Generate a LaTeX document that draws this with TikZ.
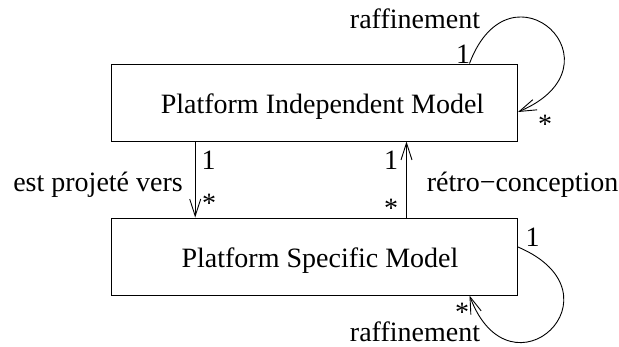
\documentclass[tikz,border=0pt]{standalone}
\usepackage{fontspec}
\setmainfont{Liberation Serif}
\usetikzlibrary{arrows.meta}
\begin{document}
\begin{tikzpicture}[x=1pt,y=-1pt,
  box/.style={draw,line width=1pt,minimum width=406pt,minimum height=77pt,inner sep=0pt},
  txt/.style={inner sep=0pt,font=\fontsize{28}{34}\selectfont},
  arr/.style={line width=0.9pt,-{Straight Barb[length=17pt,width=11pt,line width=0.9pt]}}]
\useasboundingbox (0,0) rectangle (619,346);
\node[box] (pim) at (314.5,102.5) {};
\node[box] (psm) at (314.5,256.5) {};
\node[txt,anchor=base] (pimt) at (322.5,113.3) {Platform Independent Model};
\node[txt,anchor=base] (psmt) at (320,267.3) {Platform Specific Model};
% vertical connectors
\draw[arr] ([xshift=84.2pt]pim.south west) -- ([xshift=84.2pt]psm.north west);
\draw[arr] ([xshift=-111.5pt]psm.north east) -- ([xshift=-111.5pt]pim.south east);
% loops
\draw[arr] ([xshift=-48.5pt]pim.north east) .. controls +(41,-109) and +(110,-47) .. ([yshift=-9.5pt]pim.east);
\draw[arr] ([yshift=9.5pt]psm.east) .. controls +(110,47) and +(41,109) .. ([xshift=-48.5pt]psm.south east);
% labels
\node[txt,anchor=base] (raff1) at (415,28) {raffinement};
\node[txt,anchor=base] (one1) at (463,63) {1};
\node[txt,anchor=base] (star1) at (545,133) {*};
\node[txt,anchor=base east] (proj) at (183,191.5) {est projeté vers};
\node[txt,anchor=base] (oneL) at (208.5,169) {1};
\node[txt,anchor=base] (starL) at (209,212) {*};
\node[txt,anchor=base] (oneR) at (391,169.3) {1};
\node[txt,anchor=base] (starR) at (391,217) {*};
\node[txt,anchor=base west] (retro) at (426.7,191.5) {rétro−conception};
\node[txt,anchor=base] (one2) at (532.5,246) {1};
\node[txt,anchor=base] (star2) at (462,321) {*};
\node[txt,anchor=base] (raff2) at (415,341) {raffinement};
\end{tikzpicture}
\end{document}
